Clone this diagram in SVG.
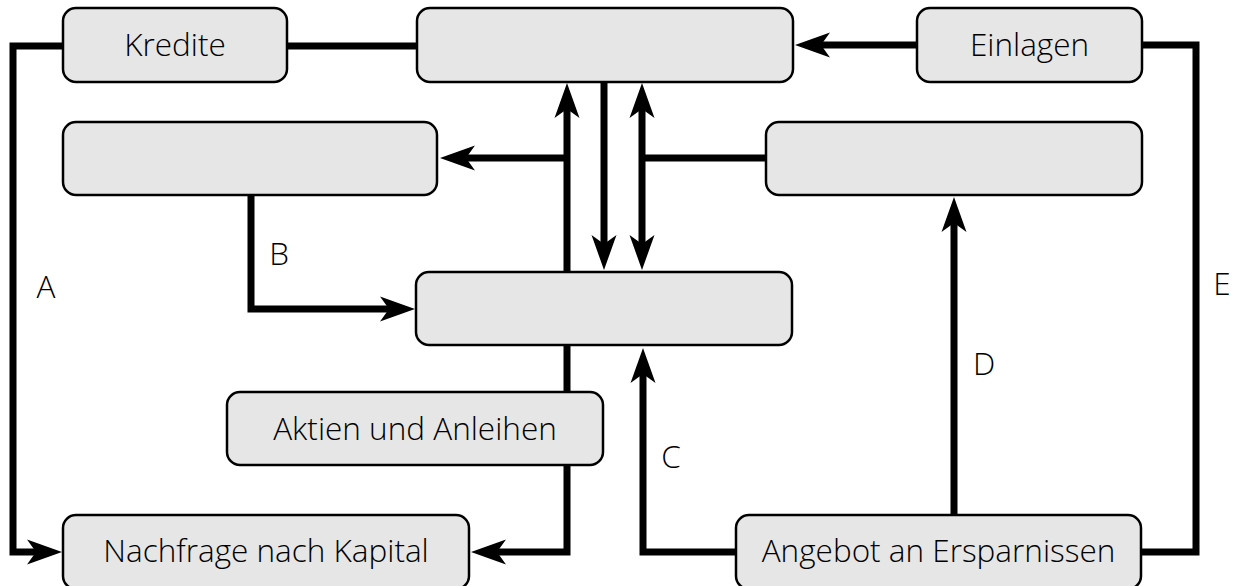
<svg xmlns="http://www.w3.org/2000/svg" width="1243" height="586" viewBox="0 0 1243 586">
<style>
.box{fill:#e6e6e6;stroke:#000;stroke-width:2.5}
.lbl{font-family:"Open Sans","Liberation Sans",sans-serif;font-size:31.5px;font-weight:300;fill:#000;text-anchor:middle}
.con{fill:none;stroke:#000;stroke-width:7;stroke-linejoin:miter}
.arr{marker-end:url(#ah)}
</style>
<defs>
<marker id="ah" viewBox="-16 -13 37 26" markerWidth="37" markerHeight="26" refX="0" refY="0" orient="auto-start-reverse" markerUnits="userSpaceOnUse">
<path d="M20,0 L-15,-12.5 L-6,0 L-15,12.5 Z" fill="#000"/>
</marker>
</defs>
<g id="connectors">
<path class="con arr" d="M63,46 H13 V552 H42"/>
<path class="con" d="M287,46 H417"/>
<path class="con arr" d="M917,45 H815"/>
<path class="con" d="M1142,45 H1196 V552 H1141"/>
<path class="con arr" d="M567,272 V103"/>
<path class="con arr" d="M567,158 H460"/>
<path class="con arr" d="M604,82 V250"/>
<path class="con arr" d="M642,103 V250" marker-start="url(#ah)"/>
<path class="con" d="M642,158 H766"/>
<path class="con arr" d="M251,195 V309 H395"/>
<path class="con" d="M567,345 V392"/>
<path class="con arr" d="M567,465 V552 H491"/>
<path class="con arr" d="M736,552 H643 V368"/>
<path class="con arr" d="M954,515 V217"/>
<text class="lbl" x="46" y="298">A</text>
<text class="lbl" x="279" y="265">B</text>
<text class="lbl" x="671" y="468">C</text>
<text class="lbl" x="984" y="375">D</text>
<text class="lbl" x="1222" y="295">E</text>
</g>
<g id="kredite"><rect class="box" x="63" y="8" width="224" height="74" rx="13"/><text class="lbl" x="175" y="56">Kredite</text></g>
<g id="top-center"><rect class="box" x="417" y="8" width="376" height="74" rx="13"/></g>
<g id="einlagen"><rect class="box" x="917" y="8" width="225" height="74" rx="13"/><text class="lbl" x="1029.5" y="56">Einlagen</text></g>
<g id="left-middle"><rect class="box" x="63" y="122" width="374" height="73" rx="13"/></g>
<g id="right-middle"><rect class="box" x="766" y="122" width="376" height="73" rx="13"/></g>
<g id="center"><rect class="box" x="416" y="272" width="376" height="73" rx="13"/></g>
<g id="aktien"><rect class="box" x="227" y="392" width="376" height="73" rx="13"/><text class="lbl" x="415" y="440">Aktien und Anleihen</text></g>
<g id="nachfrage"><rect class="box" x="63" y="515" width="406" height="74" rx="13"/><text class="lbl" x="266" y="562">Nachfrage nach Kapital</text></g>
<g id="angebot"><rect class="box" x="736" y="515" width="405" height="74" rx="13"/><text class="lbl" x="938.5" y="562">Angebot an Ersparnissen</text></g>
</svg>
